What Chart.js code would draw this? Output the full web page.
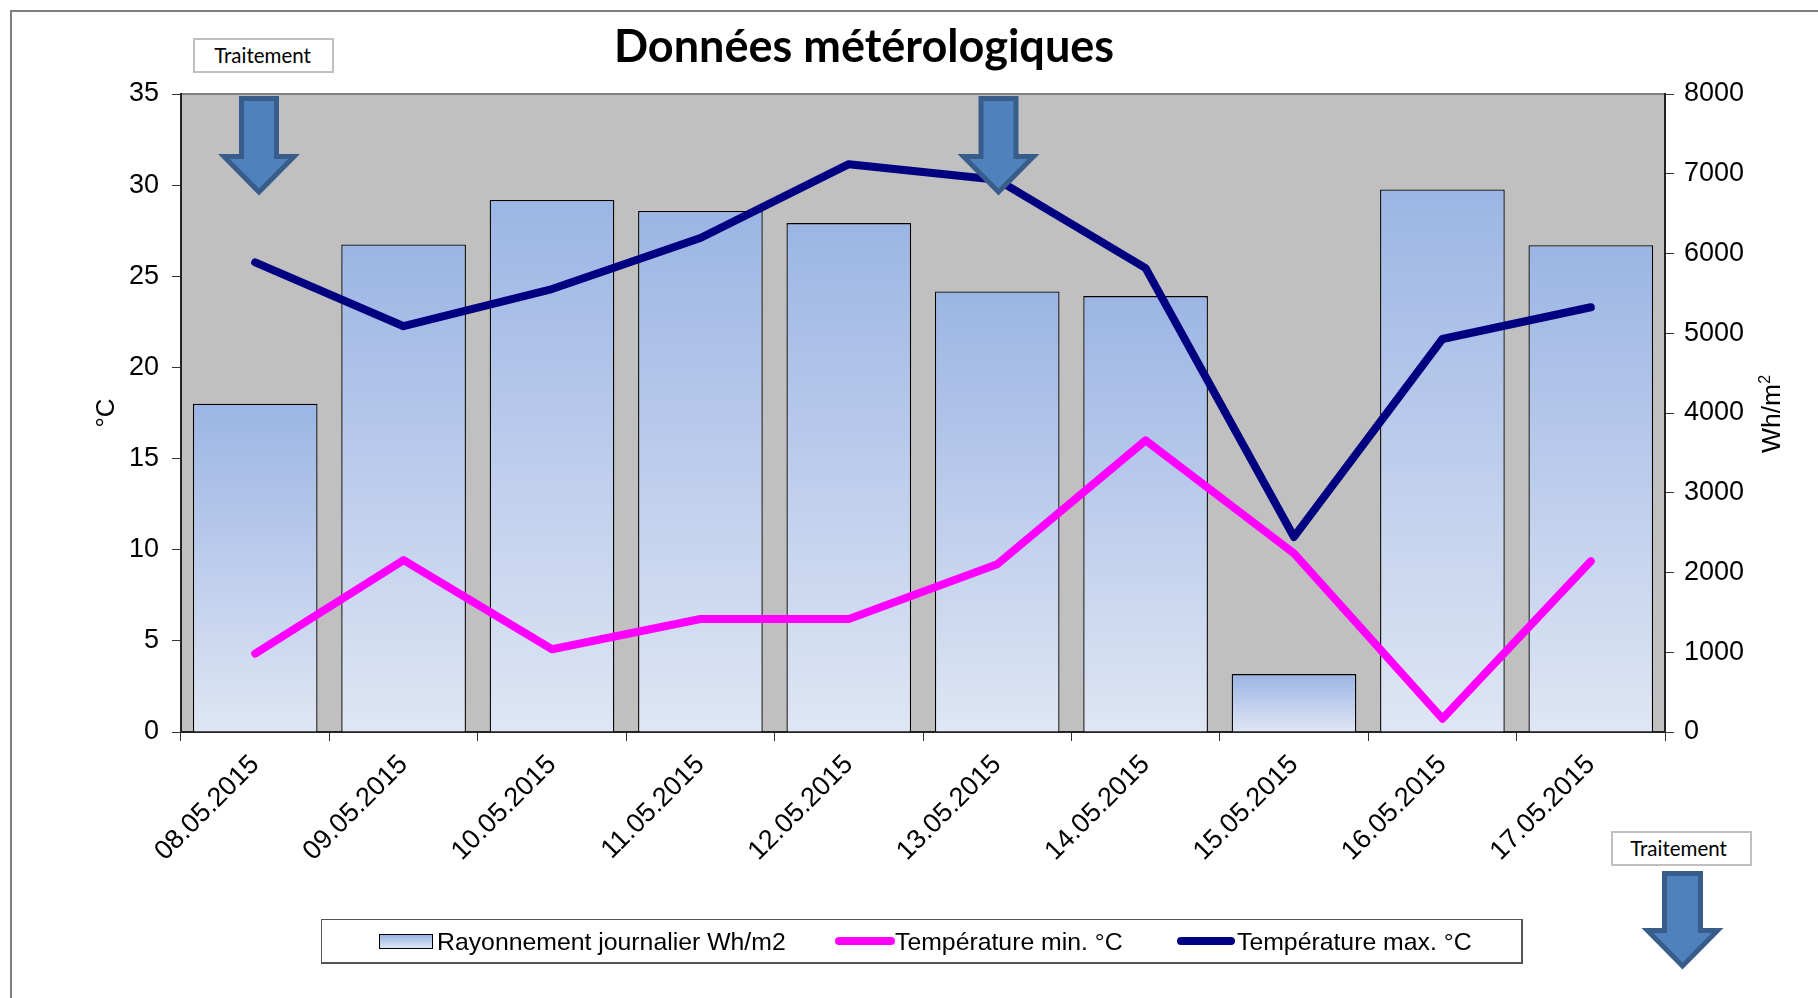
<!DOCTYPE html>
<html lang="fr">
<head>
<meta charset="utf-8">
<title>Données métérologiques</title>
<script src="https://cdn.jsdelivr.net/npm/chart.js@4"></script>
<style>
  html, body { margin: 0; padding: 0; background: #fff; overflow: hidden; }
  #page { position: relative; width: 1818px; height: 998px; }
  #chart { position: absolute; left: 0; top: 0; }
  .frame { position: absolute; left: 10px; top: 10px; right: 0; bottom: 0; border-left: 2px solid #7f7f7f; border-top: 2px solid #7f7f7f; }
  .title { position: absolute; left: 864px; top: 18px; transform: translateX(-50%); font: 700 45px Lato, sans-serif; color: #000; white-space: nowrap; }
  .tag { position: absolute; width: 137px; height: 31px; border: 2px solid #bfbfbf; background: #fff; font: 20.5px/31px Lato, sans-serif; text-align: center; color: #000; }
  .unit { position: absolute; left: 1771px; top: 414px; transform: translate(-50%, -50%) rotate(-90deg); font: 26.5px "Liberation Sans", sans-serif; white-space: nowrap; }
  .unit sup { font-size: 16px; line-height: 0; }
  .arrow { position: absolute; left: 0; top: 0; pointer-events: none; }
  #legend { position: absolute; left: 321px; top: 919px; width: 1199px; height: 42px; border: 1px solid #555; border-bottom-width: 2px; border-right-width: 2px; background: #fff; }
  .legend-key, .legend-label { position: absolute; }
  .legend-label { top: 7px; font: 24.8px/30px "Liberation Sans", sans-serif; color: #000; white-space: nowrap; }
  .legend-bar { top: 14px; height: 13px; border: 1px solid #000; background: linear-gradient(#9bb5e4, #dfe6f4); }
  .legend-line { top: 17px; height: 8px; border-radius: 4px; }
</style>
</head>
<body>
<div id="page">
  <div class="frame"></div>
  <canvas id="chart" width="1818" height="998"></canvas>
  <div class="title">Données métérologiques</div>
  <div class="tag" style="left:193px;top:38px;text-indent:-2px">Traitement</div>
  <div class="tag" style="left:1611px;top:831px;text-indent:-6px">Traitement</div>
  <div class="unit">Wh/m<sup>2</sup></div>
  <svg class="arrow" width="1818" height="998">
    <g fill="#4f81bd" stroke="#385d8a" stroke-width="5">
      <path d="M241.5 98.5H276.5V156.5H294L259 192L224 156.5H241.5Z"/>
      <path d="M981 98.5H1016V156.5H1033.5L998.5 192L963.5 156.5H981Z"/>
      <path d="M1664.5 873.5H1700.5V930.5H1717.5L1682.5 966L1647.5 930.5H1664.5Z"/>
    </g>
  </svg>
  <div id="legend"></div>
</div>
<script>
// chart values
const dates = ['08.05.2015', '09.05.2015', '10.05.2015', '11.05.2015', '12.05.2015', '13.05.2015', '14.05.2015', '15.05.2015', '16.05.2015', '17.05.2015'];
const rayonnement = [4116, 6112, 6671, 6533, 6381, 5524, 5466, 726, 6802, 6105];
const tempMin = [4.3, 9.43, 4.54, 6.2, 6.2, 9.2, 16, 9.8, 0.73, 9.37];
const tempMax = [25.76, 22.26, 24.3, 27.1, 31.15, 30.3, 25.45, 10.7, 21.56, 23.3];

const labelBars = 'Rayonnement journalier Wh/m2';
const labelMin = 'Température min. °C';
const labelMax = 'Température max. °C';

const tickFont = { family: 'Liberation Sans', size: 27 };

// each bar has its own gradient, top to bottom
function barGradient(ctx) {
  const chart = ctx.chart;
  if (!chart.chartArea || ctx.type !== 'data') return '#9bb5e4';
  const y1 = chart.scales.y1;
  const g = chart.ctx.createLinearGradient(0, y1.getPixelForValue(ctx.raw), 0, y1.getPixelForValue(0));
  g.addColorStop(0, '#9bb5e4');
  g.addColorStop(1, '#dfe6f4');
  return g;
}

const plotBackground = {
  id: 'plotBackground',
  beforeDraw(chart) {
    const { ctx, chartArea: a } = chart;
    ctx.save();
    ctx.fillStyle = '#c0c0c0';
    ctx.fillRect(a.left, a.top, a.right - a.left, a.bottom - a.top);
    ctx.fillStyle = '#808080';
    ctx.fillRect(a.left, a.top - 1, a.right - a.left, 2);
    ctx.restore();
  }
};

new Chart(document.getElementById('chart'), {
  type: 'bar',
  plugins: [plotBackground],
  data: {
    labels: dates,
    datasets: [
      { type: 'line', label: labelMin, data: tempMin, yAxisID: 'y', borderColor: '#ff00ff', borderWidth: 8, borderCapStyle: 'round', borderJoinStyle: 'round', pointRadius: 0, tension: 0, order: 1 },
      { type: 'line', label: labelMax, data: tempMax, yAxisID: 'y', borderColor: '#000080', borderWidth: 8, borderCapStyle: 'round', borderJoinStyle: 'round', pointRadius: 0, tension: 0, order: 0 },
      { type: 'bar', label: labelBars, data: rayonnement, yAxisID: 'y1', backgroundColor: barGradient, borderColor: '#000', borderWidth: 1.3, categoryPercentage: 0.84, barPercentage: 1, order: 2 }
    ]
  },
  options: {
    responsive: false,
    animation: false,
    layout: { padding: { top: 94, left: 0, right: 0, bottom: 0 } },
    plugins: { legend: { display: false }, title: { display: false }, tooltip: { enabled: false } },
    scales: {
      x: {
        offset: true,
        afterFit(s) { s.height = 266; },
        border: { color: '#222', width: 2 },
        grid: { drawOnChartArea: false, tickLength: 9, tickColor: '#333', offset: true },
        ticks: { color: '#000', font: tickFont, minRotation: 45, maxRotation: 45, padding: 8 }
      },
      y: {
        position: 'left',
        min: 0, max: 35,
        afterFit(s) { s.width = 181; },
        border: { color: '#222', width: 2 },
        grid: { drawOnChartArea: false, tickLength: 9, tickColor: '#333' },
        ticks: { color: '#000', font: tickFont, stepSize: 5, padding: 13 },
        title: { display: true, text: '°C', color: '#000', font: { family: 'Liberation Sans', size: 26 }, padding: { top: 91, bottom: 0 } }
      },
      y1: {
        position: 'right',
        min: 0, max: 8000,
        afterFit(s) { s.width = 153; },
        border: { color: '#222', width: 2 },
        grid: { drawOnChartArea: false, tickLength: 9, tickColor: '#333' },
        ticks: { color: '#000', font: tickFont, stepSize: 1000, padding: 10, format: { useGrouping: false } }
      }
    }
  }
});

// legend is built by hand, the box sits off-centre in the reference
const legend = document.getElementById('legend');
legend.innerHTML = `
  <div class="legend-key legend-bar" style="left:57px;width:52px"></div>
  <span class="legend-label" style="left:115px">${labelBars}</span>
  <div class="legend-key legend-line" style="left:513px;width:60px;background:#ff00ff"></div>
  <span class="legend-label" style="left:573px">${labelMin}</span>
  <div class="legend-key legend-line" style="left:855px;width:58px;background:#000080"></div>
  <span class="legend-label" style="left:915px">${labelMax}</span>`;
</script>
</body>
</html>
